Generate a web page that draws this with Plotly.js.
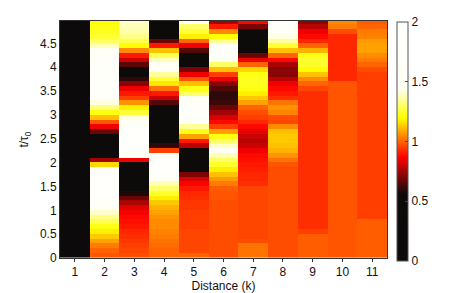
<!DOCTYPE html>
<html>
<head>
<meta charset="utf-8">
<script src="https://cdn.plot.ly/plotly-3.0.1.min.js"></script>
<style>html,body{margin:0;padding:0;background:#fff;}#chart{width:463px;height:293px;}</style>
</head>
<body>
<div id="chart"></div>
<script>
// Distance (k) categories
const distance = [1, 2, 3, 4, 5, 6, 7, 8, 9, 10, 11];
// time t/tau0 (row centres)
const tTimes = [0.05,0.15,0.25,0.35,0.45,0.55,0.65,0.75,0.85,0.95,
  1.05,1.15,1.25,1.35,1.45,1.55,1.65,1.75,1.85,1.95,
  2.05,2.15,2.25,2.35,2.45,2.55,2.65,2.75,2.85,2.95,
  3.05,3.15,3.25,3.35,3.45,3.55,3.65,3.75,3.85,3.95,
  4.05,4.15,4.25,4.35,4.45,4.55,4.65,4.75,4.85,4.95];

// values per distance column, bottom (t=0.05) to top (t=4.95)
const col1 = [0,0,0,0,0,0,0,0,0,0, 0,0,0,0,0,0,0,0,0,0, 0,0,0,0,0,0,0,0,0,0, 0,0,0,0,0,0,0,0,0,0, 0,0,0,0,0,0,0,0,0,0];
const col2 = [0.98,1.0,1.03,1.08,1.13,1.18,1.22,1.28,1.33,1.4,
  1.5,1.6,1.7,1.75,1.8,1.8,1.75,1.7,1.55,1.15,
  0.75,0.3,0.2,0.2,0.3,0.5,0.68,0.85,0.98,1.12,
  1.22,1.32,1.42,1.55,1.65,1.7,1.75,1.75,1.75,1.7,
  1.7,1.65,1.55,1.47,1.38,1.3,1.25,1.23,1.22,1.2];
const col3 = [0.97,0.96,0.95,0.94,0.93,0.92,0.9,0.89,0.88,0.86,
  0.83,0.76,0.68,0.58,0.5,0.4,0.35,0.3,0.28,0.3,
  0.85,1.5,1.7,1.8,1.85,1.85,1.8,1.7,1.55,1.42,
  1.25,1.18,1.06,0.95,0.9,0.85,0.72,0.6,0.45,0.5,
  0.66,0.8,0.9,1.05,1.2,1.27,1.33,1.37,1.38,1.4];
const col4 = [1.0,1.0,1.01,1.02,1.03,1.04,1.05,1.05,1.06,1.08,
  1.1,1.13,1.18,1.24,1.3,1.38,1.5,1.65,1.75,1.8,
  1.75,1.6,0.95,0.6,0.4,0.3,0.25,0.2,0.2,0.25,
  0.3,0.45,0.65,0.8,0.9,1.02,1.17,1.25,1.35,1.5,
  1.5,1.38,1.28,1.12,0.9,0.68,0.45,0.3,0.25,0.25];
const col5 = [1.0,0.96,0.96,0.96,0.96,0.96,0.95,0.95,0.95,0.95,
  0.94,0.94,0.93,0.92,0.9,0.87,0.82,0.7,0.55,0.4,
  0.3,0.35,0.55,0.78,0.9,1.08,1.22,1.35,1.5,1.65,
  1.75,1.7,1.6,1.48,1.3,1.22,1.12,0.98,0.85,0.7,
  0.5,0.35,0.45,0.65,0.85,1.0,1.18,1.25,1.3,1.45];
const col6 = [0.97,0.97,0.97,0.97,0.97,0.97,0.97,0.97,0.97,0.97,
  0.97,0.97,0.98,0.98,0.99,1.03,1.07,1.12,1.18,1.24,
  1.3,1.38,1.45,1.4,1.3,1.22,1.08,0.95,0.88,0.82,
  0.75,0.68,0.62,0.6,0.6,0.65,0.72,0.85,0.95,1.12,
  1.3,1.55,1.7,1.7,1.55,1.35,1.2,1.05,0.9,0.75];
const col7 = [1.02,1.02,1.02,0.97,0.96,0.96,0.96,0.96,0.96,0.96,
  0.96,0.96,0.96,0.96,0.96,0.93,0.92,0.92,0.91,0.9,
  0.89,0.88,0.85,0.8,0.78,0.8,0.84,0.88,0.92,0.95,
  0.97,1.0,1.08,1.13,1.18,1.22,1.23,1.23,1.22,1.15,
  1.0,0.85,0.68,0.5,0.35,0.3,0.35,0.5,0.7,0.88];
const col8 = [0.97,0.97,0.97,0.97,0.97,0.97,0.97,0.97,0.97,0.97,
  0.97,0.97,0.97,0.97,0.97,0.97,0.97,0.97,0.97,0.98,
  1.02,1.06,1.1,1.12,1.13,1.13,1.12,1.05,0.96,0.97,
  1.04,1.06,1.02,0.93,0.9,0.88,0.85,0.78,0.72,0.72,
  0.76,0.88,1.0,1.12,1.25,1.35,1.42,1.55,1.65,1.7];
const col9 = [0.99,0.99,0.99,0.99,0.99,0.95,0.93,0.93,0.93,0.93,
  0.93,0.93,0.93,0.93,0.93,0.93,0.93,0.93,0.93,0.93,
  0.93,0.93,0.93,0.93,0.93,0.93,0.93,0.93,0.93,0.93,
  0.93,0.93,0.93,0.93,0.93,0.96,1.0,1.05,1.12,1.2,
  1.24,1.25,1.22,1.1,1.0,0.92,0.88,0.85,0.78,0.72];
const col10 = [0.98,0.98,0.98,0.98,0.98,0.98,0.98,0.98,0.98,0.98,
  0.98,0.98,0.98,0.98,0.98,0.98,0.98,0.98,0.98,0.98,
  0.98,0.98,0.98,0.98,0.98,0.98,0.98,0.98,0.98,0.98,
  0.98,0.98,0.98,0.98,0.98,0.98,0.98,0.92,0.92,0.92,
  0.92,0.92,0.92,0.92,0.92,0.92,0.92,0.97,1.03,1.05];
const col11 = [0.99,0.99,0.99,0.99,0.99,0.99,0.99,0.99,0.95,0.95,
  0.95,0.95,0.95,0.95,0.95,0.95,0.95,0.95,0.95,0.95,
  0.95,0.95,0.95,0.95,0.95,0.95,0.95,0.95,0.95,0.95,
  0.95,0.95,0.95,0.95,0.95,0.95,0.95,0.95,0.95,0.97,
  1.0,1.03,1.05,1.08,1.08,1.07,1.04,1.03,1.0,0.99];

const yTickVals = [0,0.5,1,1.5,2,2.5,3,3.5,4,4.5];
const yTickText = ['0','0.5','1','1.5','2','2.5','3','3.5','4','4.5'];
const cbTickVals = [0,0.5,1,1.5,2];
const cbTickText = ['0','0.5','1','1.5','2'];

const columns = [col1,col2,col3,col4,col5,col6,col7,col8,col9,col10,col11];
const z = tTimes.map((_, i) => columns.map(c => c[i]));

const hotScale = [
  [0, 'rgb(12,10,10)'],
  [0.28, 'rgb(14,10,10)'],
  [0.435, 'rgb(255,0,0)'],
  [0.6, 'rgb(255,255,0)'],
  [0.72, 'rgb(255,255,245)'],
  [1, 'rgb(255,255,255)']
];

const trace = {
  type: 'heatmap',
  x: distance,
  y: tTimes,
  z: z,
  zmin: 0,
  zmax: 2,
  colorscale: hotScale,
  zsmooth: false,
  hoverinfo: 'none',
  colorbar: {
    x: 1.0306, xanchor: 'left', xref: 'paper',
    y: 0.492, yanchor: 'middle', len: 1.01, lenmode: 'fraction',
    thickness: 11, thicknessmode: 'pixels',
    ypad: 0, xpad: 0,
    outlinewidth: 1, outlinecolor: '#555',
    tickvals: cbTickVals, ticktext: cbTickText,
    ticks: 'inside', ticklen: 3, tickcolor: '#444',
    tickfont: {family: 'Liberation Sans, Arial, sans-serif', size: 12, color: '#111'}
  }
};

const layout = {
  width: 463, height: 293,
  margin: {l: 60, r: 76, t: 21, b: 35, pad: 0},
  paper_bgcolor: '#fff', plot_bgcolor: '#fff',
  font: {family: 'Liberation Sans, Arial, sans-serif', size: 12, color: '#111'},
  xaxis: {
    range: [0.5, 11.5],
    tickvals: distance, ticktext: distance.map(String),
    ticks: 'outside', ticklen: 3, tickcolor: '#333',
    showline: true, linecolor: '#333', linewidth: 1, mirror: true,
    showgrid: false, zeroline: false,
    title: {text: 'Distance (k)', font: {size: 12}, standoff: 0}
  },
  yaxis: {
    range: [0, 4.97],
    tickvals: yTickVals, ticktext: yTickText,
    ticks: 'outside', ticklen: 0,
    showline: true, linecolor: '#333', linewidth: 1, mirror: true,
    showgrid: false, zeroline: false,
    title: {text: 't/τ<sub>0</sub>', font: {size: 12}, standoff: 8}
  }
};

Plotly.newPlot('chart', [trace], layout, {displayModeBar: false, staticPlot: true});
</script>
</body>
</html>
